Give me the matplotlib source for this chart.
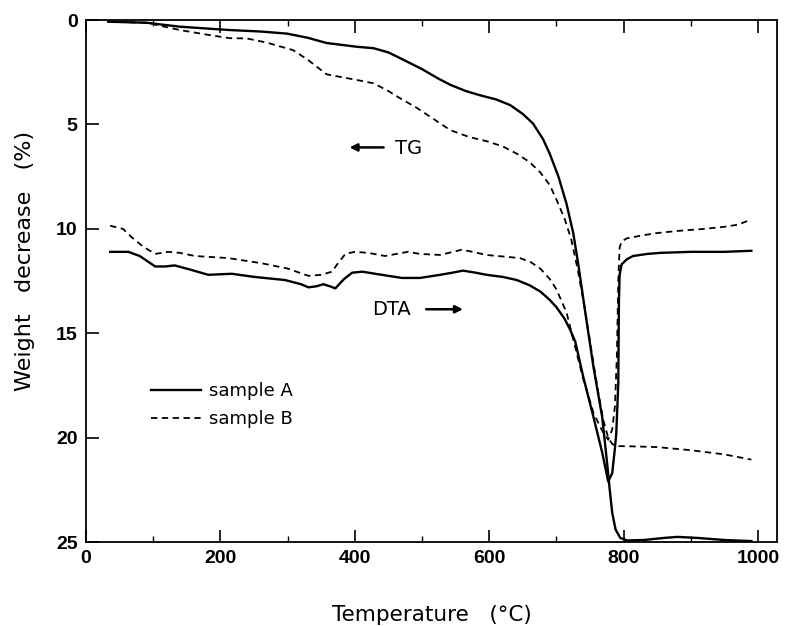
import matplotlib
matplotlib.use('Agg')
import matplotlib.pyplot as plt
from matplotlib.ticker import MultipleLocator

plt.rcParams['font.family'] = ['Liberation Sans', 'DejaVu Sans']

# TG curves (weight decrease, %)
tg_a_temp = [33, 90, 140, 214, 260, 299, 330, 358, 403, 428, 450, 467, 500, 524, 542,
             565, 586, 610, 631, 650, 665, 680, 690, 703, 715, 725, 733, 742, 755, 768,
             775, 779, 783, 788, 795, 805, 830, 860, 880, 910, 950, 990]
tg_a_loss = [0.08, 0.13, 0.32, 0.48, 0.55, 0.65, 0.85, 1.1, 1.28, 1.35, 1.55, 1.82, 2.35,
             2.8, 3.1, 3.4, 3.6, 3.8, 4.07, 4.5, 4.95, 5.7, 6.4, 7.5, 8.8, 10.2, 11.8, 13.8,
             16.6, 19.0, 21.1, 22.4, 23.6, 24.4, 24.8, 24.92, 24.9, 24.8, 24.75, 24.8,
             24.9, 24.95]

tg_b_temp = [33, 90, 140, 180, 214, 239, 269, 308, 330, 358, 403, 428, 450, 467, 492,
             520, 542, 570, 596, 620, 641, 660, 676, 690, 700, 712, 722, 732, 742, 752,
             762, 770, 777, 783, 790, 820, 850, 900, 950, 990]
tg_b_loss = [0.08, 0.13, 0.48, 0.7, 0.87, 0.88, 1.08, 1.44, 1.9, 2.6, 2.87, 3.03, 3.4,
             3.74, 4.2, 4.8, 5.27, 5.6, 5.8, 6.05, 6.4, 6.8, 7.3, 7.9, 8.6, 9.5, 10.5,
             12.0, 13.8, 15.8, 17.8, 19.2, 20.0, 20.3, 20.4, 20.42, 20.45, 20.6, 20.8,
             21.05]

# DTA curves (drawn in the same axes, arbitrary units)
dta_a_temp = [36, 63, 80, 103, 118, 132, 155, 182, 217, 250, 296, 320, 331, 343, 353,
              363, 371, 384, 396, 411, 440, 470, 497, 527, 545, 561, 580, 596, 620, 641,
              660, 676, 690, 700, 712, 720, 728, 740, 755, 768, 777, 783, 787, 789, 792,
              793, 794, 797, 805, 814, 835, 854, 900, 950, 990]
dta_a_val = [11.1, 11.1, 11.3, 11.8, 11.8, 11.75, 11.95, 12.2, 12.15, 12.3, 12.45, 12.65,
             12.8, 12.75, 12.65, 12.75, 12.85, 12.4, 12.1, 12.05, 12.2, 12.35, 12.35,
             12.2, 12.1, 12.0, 12.1, 12.2, 12.3, 12.45, 12.7, 13.0, 13.4, 13.75, 14.3,
             14.8, 15.4, 17.1, 19.0, 20.7, 22.1, 21.7, 20.5, 19.8, 17.4, 13.4, 12.2,
             11.7, 11.45, 11.3, 11.2, 11.15, 11.1, 11.1, 11.05]

dta_b_temp = [36, 55, 68, 85, 103, 122, 140, 162, 212, 262, 300, 331, 350, 366, 376,
              386, 400, 420, 445, 479, 497, 527, 559, 575, 596, 646, 662, 676, 690, 700,
              715, 725, 740, 755, 767, 777, 783, 787, 790, 792, 794, 797, 805, 830, 850,
              880, 920, 950, 970, 990]
dta_b_val = [9.85, 10.0, 10.4, 10.85, 11.2, 11.1, 11.15, 11.3, 11.4, 11.65, 11.9, 12.25,
             12.2, 12.05, 11.6, 11.2, 11.1, 11.15, 11.3, 11.1, 11.2, 11.25, 11.0, 11.1,
             11.25, 11.4, 11.6, 11.9, 12.4, 12.9, 14.0, 15.3, 17.2, 18.8, 19.6, 20.1,
             19.6, 18.5, 16.0, 12.5, 10.9, 10.6, 10.45, 10.3, 10.2, 10.1, 10.0, 9.9,
             9.8, 9.55]

x_ticks = [0, 200, 400, 600, 800, 1000]
y_ticks = [0, 5, 10, 15, 20, 25]

fig = plt.figure(figsize=(7.96, 6.26), dpi=100)
ax = fig.add_axes([0.108, 0.134, 0.868, 0.834])

solid = dict(color='black', lw=1.7, ls='-')
dashed = dict(color='black', lw=1.3, ls=(0, (3.5, 2.5)))

ax.plot(tg_a_temp, tg_a_loss, label='sample A', **solid)
ax.plot(tg_b_temp, tg_b_loss, label='sample B', **dashed)
ax.plot(dta_a_temp, dta_a_val, **solid)
ax.plot(dta_b_temp, dta_b_val, **dashed)

ax.set_xlim(0, 1028)
ax.set_ylim(25, 0)
ax.set_xticks(x_ticks)
ax.set_yticks(y_ticks)
ax.xaxis.set_minor_locator(MultipleLocator(100))
ax.tick_params(which='major', direction='in', length=9, width=1.2,
               top=True, right=False, labelsize=14, pad=6)
ax.tick_params(which='minor', direction='in', length=4, width=1.0, top=True)
ax.tick_params(axis='y', which='minor', left=False)
for lab in ax.get_xticklabels() + ax.get_yticklabels():
    lab.set_fontweight('bold')
for sp in ax.spines.values():
    sp.set_linewidth(1.3)

ax.set_xlabel('Temperature   (\u00b0C)', fontsize=15.5, family=['DejaVu Sans'], labelpad=27)
ax.set_ylabel('Weight   decrease   (%)', fontsize=16, family=['DejaVu Sans'])
ax.yaxis.set_label_coords(-0.074, 0.538)

# curve labels with arrows
ax.annotate('', xy=(388, 6.1), xytext=(447, 6.1),
            arrowprops=dict(arrowstyle='-|>', color='black', lw=1.8, mutation_scale=11))
ax.text(460, 6.15, 'TG', fontsize=14, va='center', ha='left', family=['DejaVu Sans'])
ax.text(426, 13.85, 'DTA', fontsize=14, va='center', ha='left', family=['DejaVu Sans'])
ax.annotate('', xy=(565, 13.85), xytext=(502, 13.85),
            arrowprops=dict(arrowstyle='-|>', color='black', lw=1.8, mutation_scale=11))

ax.legend(loc='upper left', bbox_to_anchor=(0.071, 0.338), frameon=False,
          handlelength=2.75, handletextpad=0.45, labelspacing=0.55,
          prop={'family': 'DejaVu Sans', 'size': 13})

fig.savefig('out.png', dpi=100)
